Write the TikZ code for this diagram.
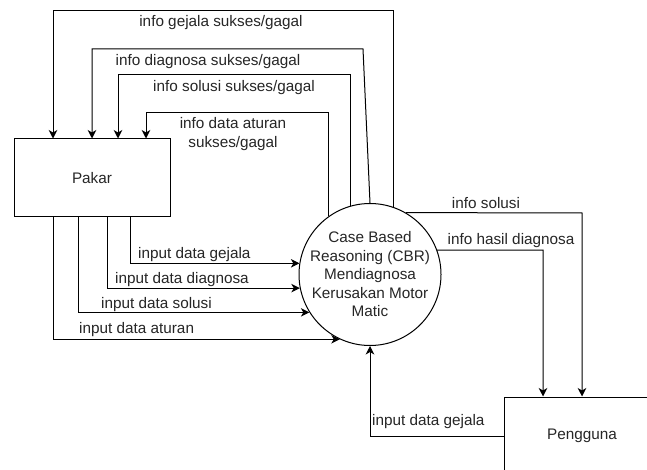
\documentclass[tikz,border=0pt]{standalone}
\usepackage{fontspec}
\setmainfont{Liberation Sans}
\usetikzlibrary{arrows.meta}
\begin{document}
\begin{tikzpicture}[x=1pt,y=-1pt,
  flow/.style={draw=black, line width=1pt, -{Stealth[length=8.5pt,width=8.5pt,inset=2.5pt]}},
  box/.style={draw=black, line width=1pt, rectangle, minimum width=156pt, minimum height=78pt, inner sep=0pt},
  lbl/.style={text=black!85, inner sep=0pt, font=\fontsize{15.3}{18.5}\selectfont},
  every node/.style={font=\fontsize{15.3}{18.5}\selectfont, text=black!85}]
\clip (0,0) rectangle (647,470);
\fill[white] (0,0) rectangle (647,470);
% entities
\node[box] (pk) at (92,178) {Pakar};
\node[box] (pg) at (582,436) {Pengguna};
\node[circle, draw=black, line width=1pt, minimum size=142pt, inner sep=0pt] (c) at (370,274.5) {};
\node[align=center, inner sep=0pt] (ct) at (c) {Case Based\\Reasoning (CBR)\\Mendiagnosa\\Kerusakan Motor\\Matic};
% top feedback corners
\coordinate (t1) at (53,11);
\coordinate (t2) at (363,49);
\coordinate (t2l) at (92,49);
\coordinate (t3) at (118,75);
\coordinate (t4) at (146,113);
\draw[flow] (c.71.1) |- (t1) -- (t1 |- pk.north);
\draw[flow] (c.north) -- (t2) -- (t2l) -- (t2l |- pk.north);
\draw[flow] (c.106.4) |- (t3) -- (t3 |- pk.north);
\draw[flow] (c.125.3) |- (t4) -- (t4 |- pk.north);
\node[lbl] (l1) at (221,23) {info gejala sukses/gagal};
\node[lbl] (l2) at (208,62) {info diagnosa sukses/gagal};
\node[lbl] (l3) at (234,88) {info solusi sukses/gagal};
\node[lbl, align=center] (l4) at (233,134) {info data aturan\\sukses/gagal};
% inputs from Pakar
\coordinate (b1) at (130,217);
\coordinate (b2) at (107,217);
\coordinate (b3) at (78,217);
\coordinate (b4) at (53,217);
\draw[flow] (b1) |- (c.171.5);
\draw[flow] (b2) |- (c.191.8);
\draw[flow] (b3) |- (c.212.8);
\draw[flow] (b4) |- (c.245.3);
\node[lbl, anchor=west] (i1) at (138,255) {input data gejala};
\node[lbl, anchor=west] (i2) at (115,280) {input data diagnosa};
\node[lbl, anchor=west] (i3) at (101,305) {input data solusi};
\node[lbl, anchor=west] (i4) at (79,330) {input data aturan};
% to Pengguna
\coordinate (r1) at (582,213);
\coordinate (r2) at (543,250);
\draw[flow] (c.60) -- (r1) -- (r1 |- pg.north);
\draw[flow] (c.20.2) -- (r2) -- (r2 |- pg.north);
\node[lbl] (o1) at (486,203) {info solusi};
\node[lbl] (o2) at (511,241) {info hasil diagnosa};
% from Pengguna
\draw[flow] (pg.west) -| (c.south);
\node[lbl, anchor=west] (p1) at (372,422) {input data gejala};
\end{tikzpicture}
\end{document}
